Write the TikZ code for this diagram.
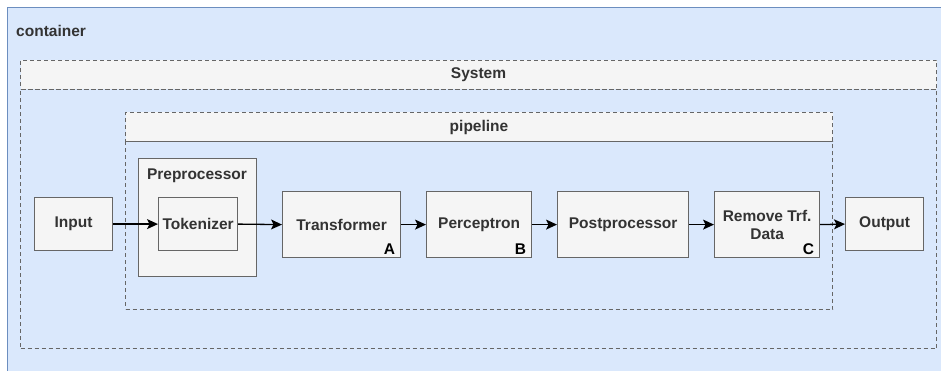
\documentclass[tikz,border=0pt]{standalone}
\usepackage{fontspec}
\setmainfont{Liberation Sans}
\usetikzlibrary{positioning, arrows.meta}

\definecolor{contfill}{HTML}{DAE8FC}
\definecolor{contline}{HTML}{6C8EBF}
\definecolor{boxfill}{HTML}{F5F5F5}
\definecolor{boxline}{HTML}{666666}
\definecolor{boxtext}{HTML}{333333}

\begin{document}
\begin{tikzpicture}[
	% one unit is one pixel of the drawing, y runs downwards
	x=1pt, y=-1pt,
	% Style for the blue outer container
	cont/.style={
		rectangle,
		draw=contline,
		fill=contfill,
		line width=1.2pt,
		anchor=north west,
		inner sep=0pt
	},
	% Style for the dashed group headers
	grouphead/.style={
		rectangle,
		draw=boxline,
		fill=boxfill,
		dash pattern=on 4pt off 3pt,
		line width=1pt,
		anchor=north west,
		inner sep=0pt,
		text=boxtext,
		font=\bfseries\fontsize{15.5}{18}\selectfont
	},
	% Style for the dashed group bodies
	groupbody/.style={
		rectangle,
		draw=boxline,
		dash pattern=on 4pt off 3pt,
		line width=1pt,
		anchor=north west,
		inner sep=0pt
	},
	% Style for the processing blocks
	block/.style={
		rectangle,
		draw=boxline,
		fill=boxfill,
		line width=1.2pt,
		anchor=north west,
		inner sep=0pt,
		align=center,
		text=boxtext,
		font=\bfseries\fontsize{15.5}{18}\selectfont
	},
	% Style for plain titles
	title/.style={
		anchor=base,
		inner sep=0pt,
		text=boxtext,
		font=\bfseries\fontsize{15.5}{18}\selectfont
	},
	% Style for the corner letters
	tag/.style={
		anchor=south east,
		inner xsep=6pt,
		inner ysep=3.5pt,
		font=\bfseries\fontsize{15.5}{18}\selectfont
	},
	% Style for the connectors
	flow/.style={
		line width=1.3pt,
		-{Stealth[length=11pt, width=10pt, inset=2.5pt]}
	}
	]
	\useasboundingbox (0,0) rectangle (941,371);
	\clip (0,0) rectangle (941,371);
	
	% Containers and groups
	\node[cont, minimum width=945pt, minimum height=375pt] (container) at (7,7) {};
	\node[title, anchor=base west] (contlbl) at (16,37) {container};
	
	\node[grouphead, minimum width=916pt, minimum height=29pt] (syshead) at (20,60) {System};
	\node[groupbody, minimum width=916pt, minimum height=259pt] (sysbody) at (20,89) {};
	
	\node[grouphead, minimum width=707pt, minimum height=29pt] (pipehead) at (125,112) {pipeline};
	\node[groupbody, minimum width=707pt, minimum height=168pt] (pipebody) at (125,141) {};
	
	% Blocks
	\node[block, minimum width=78pt, minimum height=53pt] (input) at (34,197) {Input};
	\node[block, minimum width=118pt, minimum height=118pt] (prep) at (138,158) {};
	\node[title] (preplbl) at (197,180) {Preprocessor};
	\node[block, minimum width=79pt, minimum height=53pt] (tok) at (158,197) {Tokenizer};
	\node[block, minimum width=118pt, minimum height=66pt] (trans) at (282,191) {Transformer};
	\node[block, minimum width=105pt, minimum height=66pt] (perc) at (426,191) {Perceptron};
	\node[block, minimum width=131pt, minimum height=66pt] (post) at (557,191) {Postprocessor};
	\node[block, minimum width=105pt, minimum height=66pt] (remove) at (714,191) {Remove Trf.\\Data};
	\node[block, minimum width=78pt, minimum height=53pt] (output) at (845,197) {Output};
	
	% Corner letters
	\node[tag] (tagA) at (trans.south east) {A};
	\node[tag] (tagB) at (perc.south east) {B};
	\node[tag] (tagC) at (remove.south east) {C};
	
	% Connectors
	\draw[flow] (input.east) -- (tok.west);
	\draw[flow] (tok.east) -- (trans.west);
	\draw[flow] (trans.east) -- (perc.west);
	\draw[flow] (perc.east) -- (post.west);
	\draw[flow] (post.east) -- (remove.west);
	\draw[flow] (remove.east) -- (output.west);
	
\end{tikzpicture}
\end{document}
